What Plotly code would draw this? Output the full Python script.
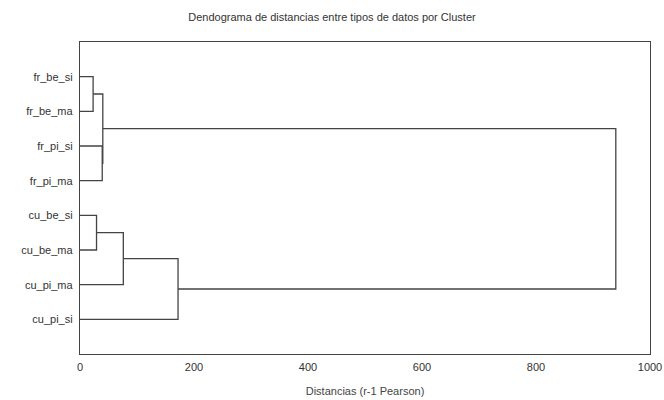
import plotly.graph_objects as go

# Data
leaves = ["fr_be_si", "fr_be_ma", "fr_pi_si", "fr_pi_ma",
          "cu_be_si", "cu_be_ma", "cu_pi_ma", "cu_pi_si"]
# merges: (cluster a, cluster b, distance); new cluster ids start at len(leaves)
merge_a = [0, 2, 8, 4, 11, 12, 10]
merge_b = [1, 3, 9, 5, 6, 7, 13]
merge_h = [23, 39, 40, 29, 76, 172, 940]
x_ticks = [0, 200, 400, 600, 800, 1000]
x_tick_labels = ["0", "200", "400", "600", "800", "1000"]

# Build dendrogram segments
pos = {i: (0.0, float(i + 1)) for i in range(len(leaves))}  # (height, y)
xs, ys = [], []
nid = len(leaves)
for a, b, h in zip(merge_a, merge_b, merge_h):
    ha, ya = pos[a]
    hb, yb = pos[b]
    xs += [ha, h, h, hb, None]
    ys += [ya, ya, yb, yb, None]
    pos[nid] = (h, (ya + yb) / 2)
    nid += 1

fig = go.Figure()
fig.add_trace(go.Scatter(x=xs, y=ys, mode="lines",
                         line=dict(color="#444444", width=1.3),
                         hoverinfo="skip", showlegend=False))

fig.update_layout(
    width=664, height=400,
    margin=dict(l=80, r=14, t=42, b=46, autoexpand=False),
    paper_bgcolor="white", plot_bgcolor="white",
    font=dict(family="Liberation Sans, Arial, sans-serif", size=11, color="#333333"),
    title=dict(text="Dendograma de distancias entre tipos de datos por Cluster",
               x=0.5, xanchor="center", y=0.957, yanchor="middle",
               font=dict(size=11, color="#333333")),
)
fig.update_xaxes(range=[0, 1000], tickvals=x_ticks, ticktext=x_tick_labels,
                 showgrid=False, zeroline=False, showline=True, mirror=True,
                 linecolor="#444444", linewidth=1.3, ticks="", ticklabelstandoff=3,
                 automargin=False,
                 title=dict(text="Distancias (r-1 Pearson)", standoff=14,
                            font=dict(size=11, color="#444444")))
fig.update_yaxes(range=[9, 0], tickvals=list(range(1, len(leaves) + 1)), ticktext=leaves,
                 showgrid=False, zeroline=False, showline=True, mirror=True,
                 linecolor="#444444", linewidth=1.3, ticks="", ticklabelstandoff=4,
                 automargin=False)

fig.write_html("out.html")
